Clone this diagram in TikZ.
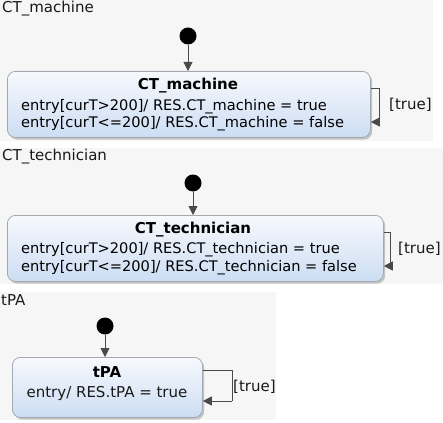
\documentclass[tikz,border=0pt]{standalone}
\usepackage{fontspec}
\setmainfont{DejaVu Sans}
\usetikzlibrary{arrows.meta,shadows}
\definecolor{panelbg}{HTML}{F6F6F6}
\definecolor{boxtop}{HTML}{F7F9FD}
\definecolor{boxbot}{HTML}{CCDDF3}
\definecolor{boxline}{HTML}{A3A9B1}
\definecolor{lnk}{HTML}{4A4A4A}
\tikzset{
  panel/.style={fill=panelbg, draw=none},
  statebox/.style={draw=boxline, line width=0.8pt, rounded corners=8pt,
    top color=boxtop, bottom color=boxbot,
    drop shadow={shadow xshift=1.8pt, shadow yshift=-2.2pt, opacity=0.35, fill=black!60}},
  initdot/.style={circle, fill=black, inner sep=0pt, minimum size=17pt},
  line/.style={draw=lnk, line width=0.9pt},
  trans/.style={draw=lnk, line width=0.9pt, -{Triangle[length=9pt,width=9pt]}},
  lbl/.style={font=\fontsize{15pt}{17pt}\selectfont, inner sep=0pt, text=black!90},
  ttl/.style={font=\fontsize{15pt}{17pt}\selectfont\bfseries, inner sep=0pt},
  entry/.style={font=\fontsize{14.6pt}{17pt}\selectfont, inner sep=0pt, anchor=west},
}
\begin{document}
\begin{tikzpicture}[x=1pt,y=-1pt]
\useasboundingbox (0,0) rectangle (443,422);
\fill[white] (0,0) rectangle (443,422);
% panels
\path[panel] (0,0) rectangle (433,141);
\path[panel] (0,148) rectangle (443,284);
\path[panel] (0,292) rectangle (276,420);

% ---- panel 1
\node[lbl, anchor=west] (p1t) at (2,9) {CT\_machine};
\node[initdot] (i1) at (188,36) {};
\node[statebox, minimum width=363pt, minimum height=66pt, anchor=north west] (s1) at (7,71) {};
\node[ttl] (s1n) at (188,86) {CT\_machine};
\node[entry] (s1a) at (21,106.5) {entry[curT>200]/ RES.CT\_machine = true};
\node[entry] (s1b) at (21,124) {entry[curT<=200]/ RES.CT\_machine = false};
\draw[trans] (i1) -- (i1 |- s1.north);
\coordinate (l1a) at (379,88);
\coordinate (l1b) at (379,122);
\draw[line] (s1.east |- l1a) -- (l1a) -- (l1b);
\draw[trans] (l1b) -- (s1.east |- l1b);
\node[lbl, anchor=west] (t1) at (389,105) {[true]};

% ---- panel 2
\node[lbl, anchor=west] (p2t) at (2,157) {CT\_technician};
\node[initdot] (i2) at (193,183) {};
\node[statebox, minimum width=376pt, minimum height=66pt, anchor=north west] (s2) at (7,215) {};
\node[ttl] (s2n) at (193,230) {CT\_technician};
\node[entry] (s2a) at (21,250) {entry[curT>200]/ RES.CT\_technician = true};
\node[entry] (s2b) at (21,267.5) {entry[curT<=200]/ RES.CT\_technician = false};
\draw[trans] (i2) -- (i2 |- s2.north);
\coordinate (l2a) at (390,232);
\coordinate (l2b) at (390,266);
\draw[line] (s2.east |- l2a) -- (l2a) -- (l2b);
\draw[trans] (l2b) -- (s2.east |- l2b);
\node[lbl, anchor=west] (t2) at (398,249) {[true]};

% ---- panel 3
\node[lbl, anchor=west] (p3t) at (1,300) {tPA};
\node[initdot] (i3) at (105,326) {};
\node[statebox, minimum width=190pt, minimum height=60pt, anchor=north west] (s3) at (12,357) {};
\node[ttl] (s3n) at (107,372) {tPA};
\node[lbl] (s3a) at (107,393) {entry/ RES.tPA = true};
\draw[trans] (i3) -- (i3 |- s3.north);
\coordinate (l3a) at (232,370);
\coordinate (l3b) at (232,401);
\draw[line] (s3.east |- l3a) -- (l3a) -- (l3b);
\draw[trans] (l3b) -- (s3.east |- l3b);
\node[lbl, anchor=west] (t3) at (233,387) {[true]};
\end{tikzpicture}
\end{document}
